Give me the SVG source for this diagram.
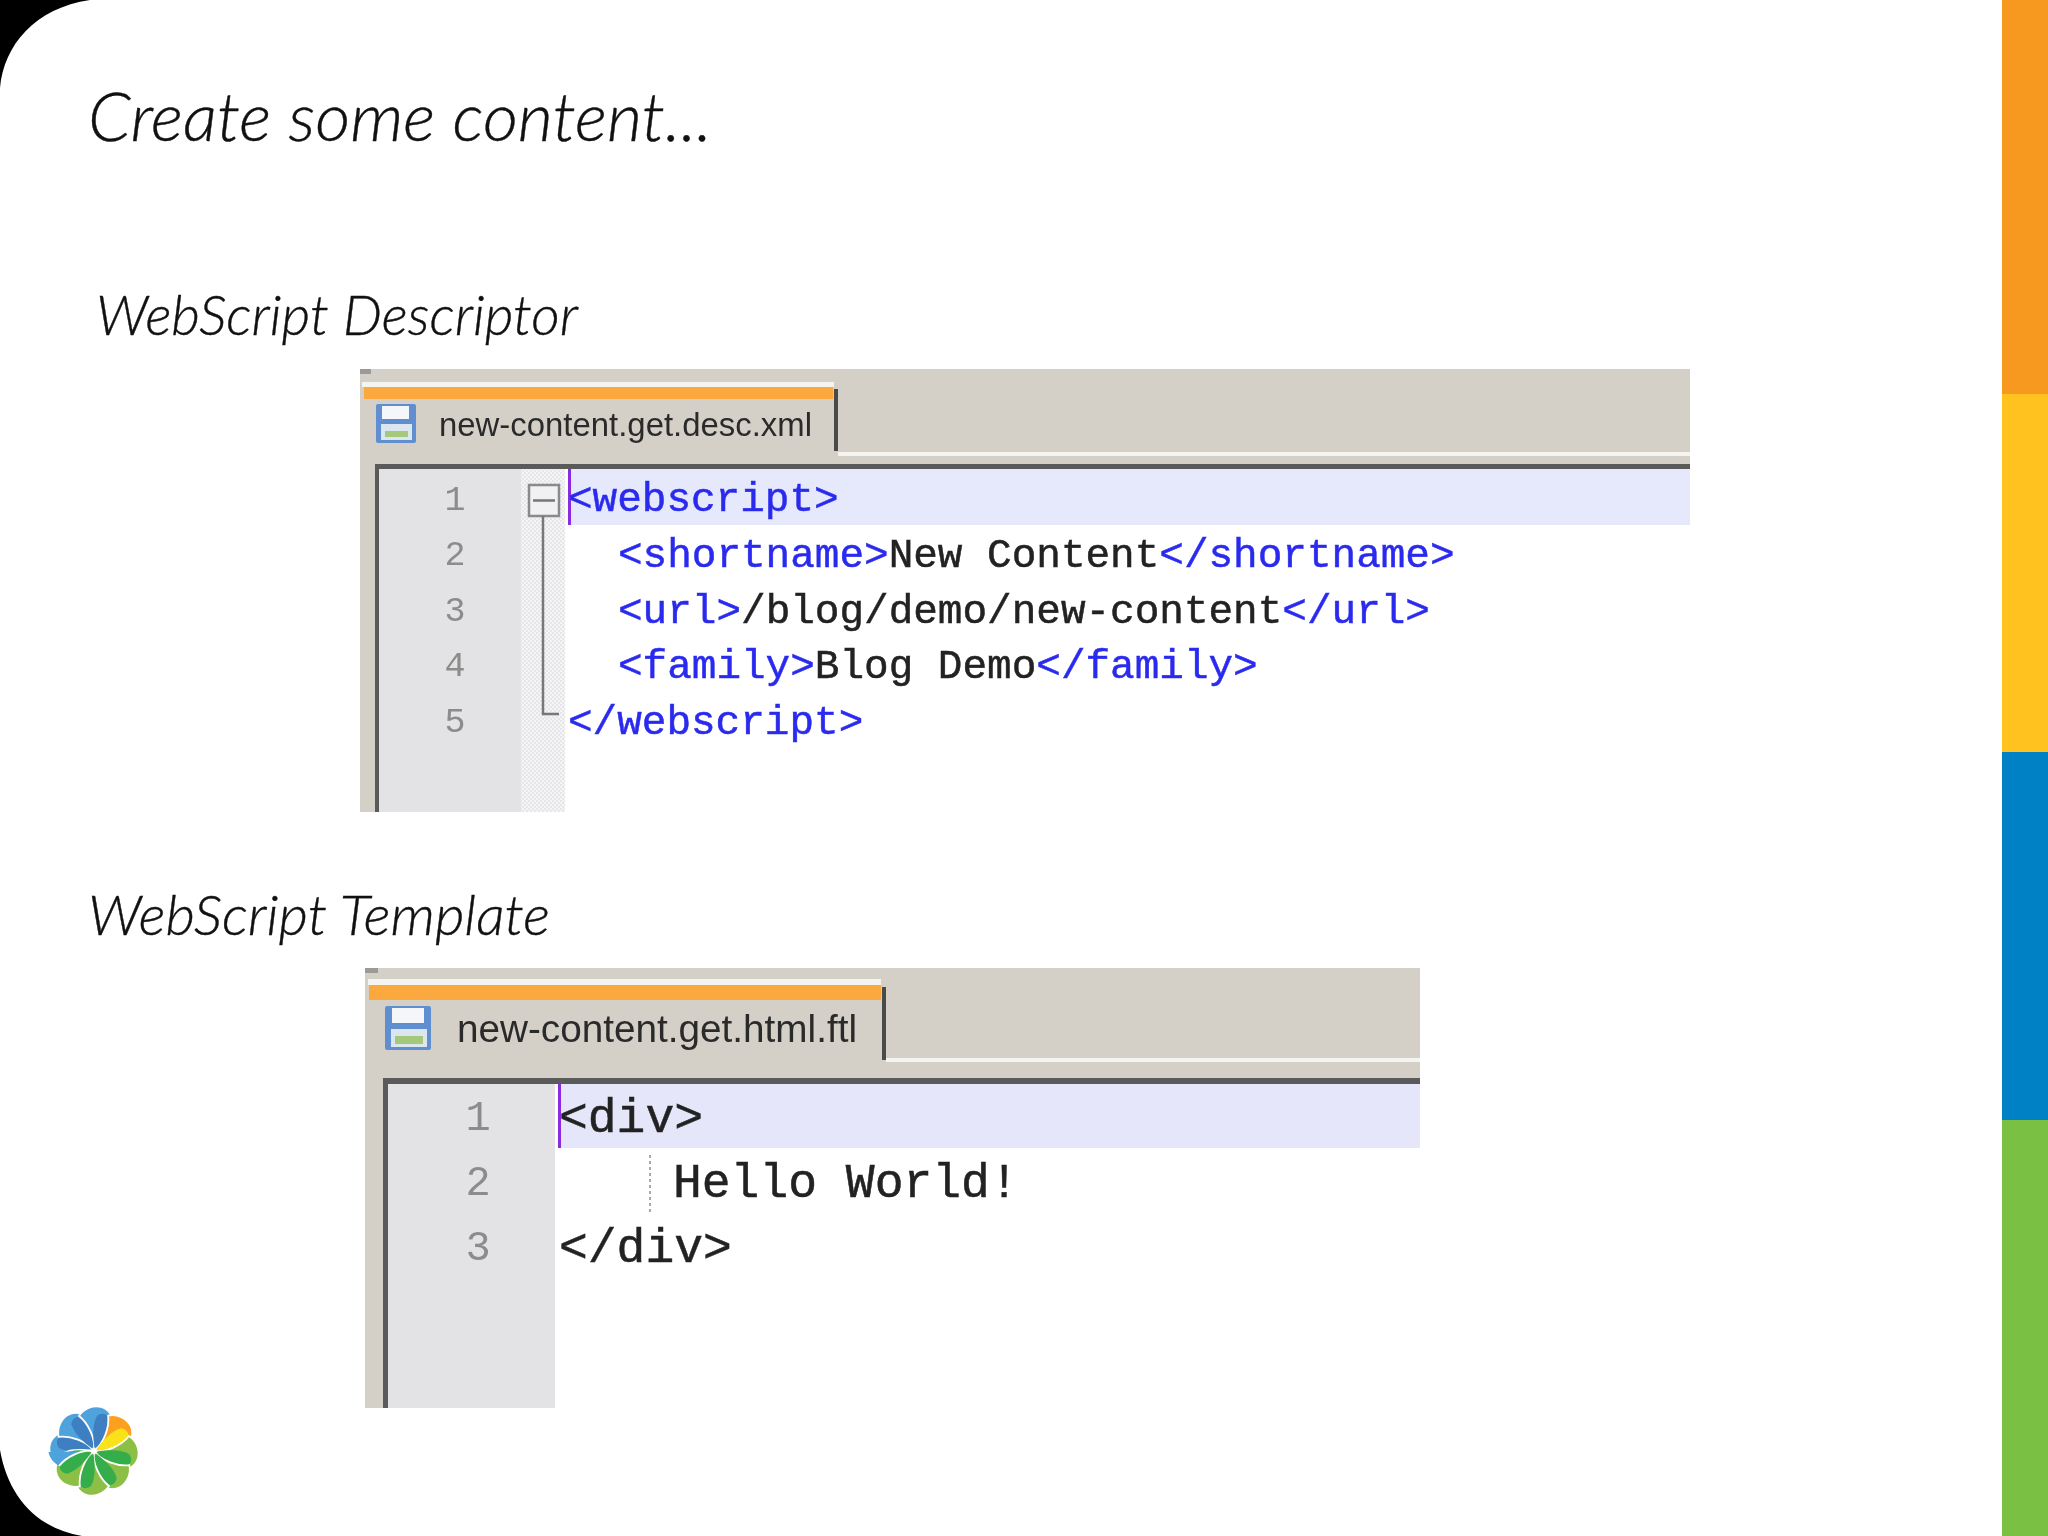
<svg xmlns="http://www.w3.org/2000/svg" xmlns:xlink="http://www.w3.org/1999/xlink" width="2048" height="1536" viewBox="0 0 2048 1536">
<style>
.title{font-family:"Lato","Liberation Sans",sans-serif;font-style:italic;font-weight:300;fill:#111;stroke:#111;stroke-width:.4}
.code1{font-family:"Liberation Mono",monospace;font-size:41px;fill:#222;stroke:#222;stroke-width:.5}
.code2{font-family:"Liberation Mono",monospace;font-size:48px;fill:#222;stroke:#222;stroke-width:.5}
.tag{fill:#2B2BEE;stroke:#2B2BEE}
.num1{font-family:"Liberation Mono",monospace;font-size:35px;fill:#8c8c8c;text-anchor:middle}
.num2{font-family:"Liberation Mono",monospace;font-size:42px;fill:#8c8c8c;text-anchor:middle}
.tab{font-family:"Liberation Sans",sans-serif;fill:#2b2b2b}
.chrome{fill:#D4D0C8}.orange{fill:#FBA93F}.hl{fill:#F4F4F0}.frame{fill:#5a5a5a}.gutter{fill:#E3E2E4}.line{fill:#E6E8FC}.caret{fill:#8A2BE2}
.soft{filter:url(#soft)}
</style>
<defs>
<filter id="soft" x="-2%" y="-10%" width="104%" height="120%"><feGaussianBlur stdDeviation="0.6"/></filter>
<pattern id="dither" width="4" height="4" patternUnits="userSpaceOnUse"><rect width="4" height="4" fill="#F5F4F6"/><rect width="2" height="2" fill="#E6E5E8"/><rect x="2" y="2" width="2" height="2" fill="#E6E5E8"/></pattern>
<path id="petal" d="M0,0C2,-12 -6,-28 -15,-35C-10,-43 0,-46 7,-44C15,-42 21,-33 20,-23C18,-14 8,-6 0,0Z" stroke="#fff" stroke-width="1.800"/>
<path id="lens" d="M.5,-3C-1,-14 -2,-26 3,-35C9,-40 17,-36 19,-25C18,-14 8,-6 .5,-3Z"/>
</defs>
<rect width="2048" height="1536" fill="#fff"/>
<g id="page-corners">
<path d="M0,0H90C35,8 4,45 0,88Z" fill="#000"/>
<path d="M0,1450C8,1495 35,1528 82,1536H0Z" fill="#000"/>
</g>
<g id="side-bar">
<rect x="2002" y="0" width="46" height="394" fill="#F7981F"/>
<rect x="2002" y="394" width="46" height="358" fill="#FFC21E"/>
<rect x="2002" y="752" width="46" height="368" fill="#0081C6"/>
<rect x="2002" y="1120" width="46" height="416" fill="#7AC143"/>
</g>
<g id="titles">
<text class="title" x="88" y="141" font-size="68" textLength="624" lengthAdjust="spacingAndGlyphs">Create some content...</text>
<text class="title" x="96" y="335" font-size="56" textLength="482" lengthAdjust="spacingAndGlyphs">WebScript Descriptor</text>
<text class="title" x="88" y="935" font-size="56" textLength="462" lengthAdjust="spacingAndGlyphs">WebScript Template</text>
</g>
<g id="editor-descriptor">
<rect class="chrome" x="360" y="369" width="1330" height="443"/>
<rect x="360" y="369" width="11" height="5" fill="#9a9a96"/>
<rect class="hl" x="362" y="382" width="472" height="5"/>
<rect class="orange" x="364" y="387" width="469" height="12"/>
<rect x="834" y="389" width="4" height="62" fill="#4a4a4a"/>
<rect class="hl" x="838" y="452" width="852" height="4"/>
<rect x="377" y="464" width="1313" height="348" fill="#fff"/>
<rect class="frame" x="377" y="464" width="1313" height="5"/>
<rect class="frame" x="375" y="464" width="4" height="348"/>
<rect class="gutter" x="379" y="469" width="142" height="343"/>
<rect x="521" y="469" width="44" height="343" fill="url(#dither)"/>
<rect class="line" x="569" y="469" width="1121" height="56"/>
<rect class="caret" x="568" y="469" width="3" height="56"/>
<rect x="529" y="485" width="30" height="31" fill="#F1F0F2" stroke="#8a8a8a" stroke-width="2.500"/>
<path d="M533,500.500H555M543,516V714H559" fill="none" stroke="#777" stroke-width="2.500"/>
<g class="soft">
<rect x="376" y="404" width="40" height="39" rx="2" fill="#5E8FD0"/>
<rect x="382" y="406" width="27" height="13" fill="#F4F6FA"/>
<rect x="381" y="424" width="31" height="16" fill="#DCE6EE"/>
<rect x="385" y="431" width="23" height="6" fill="#A6C87A"/>
<text class="tab" x="439" y="436" font-size="33" textLength="373" lengthAdjust="spacingAndGlyphs">new-content.get.desc.xml</text>
<text class="num1" x="455" y="510">1</text>
<text class="num1" x="455" y="565">2</text>
<text class="num1" x="455" y="621">3</text>
<text class="num1" x="455" y="676">4</text>
<text class="num1" x="455" y="732">5</text>
<text class="code1 tag" x="568" y="511">&lt;webscript&gt;</text>
<text class="code1" x="618" y="567"><tspan class="tag">&lt;shortname&gt;</tspan>New Content<tspan class="tag">&lt;/shortname&gt;</tspan></text>
<text class="code1" x="618" y="623"><tspan class="tag">&lt;url&gt;</tspan>/blog/demo/new-content<tspan class="tag">&lt;/url&gt;</tspan></text>
<text class="code1" x="618" y="678"><tspan class="tag">&lt;family&gt;</tspan>Blog Demo<tspan class="tag">&lt;/family&gt;</tspan></text>
<text class="code1 tag" x="568" y="734">&lt;/webscript&gt;</text>
</g>
</g>
<g id="editor-template">
<rect class="chrome" x="365" y="968" width="1055" height="440"/>
<rect x="365" y="968" width="13" height="5" fill="#9a9a96"/>
<rect class="hl" x="368" y="979" width="513" height="6"/>
<rect class="orange" x="369" y="985" width="512" height="15"/>
<rect x="882" y="987" width="4" height="73" fill="#4a4a4a"/>
<rect class="hl" x="886" y="1058" width="534" height="4"/>
<rect x="384" y="1078" width="1036" height="330" fill="#fff"/>
<rect class="frame" x="384" y="1078" width="1036" height="6"/>
<rect class="frame" x="383" y="1078" width="5" height="330"/>
<rect class="gutter" x="388" y="1084" width="167" height="324"/>
<rect x="559" y="1084" width="861" height="64" fill="#E6E6FA"/>
<rect class="caret" x="558" y="1084" width="3" height="64"/>
<path d="M650,1155V1215" fill="none" stroke="#aaa" stroke-width="2" stroke-dasharray="3 3"/>
<g class="soft">
<rect x="385" y="1006" width="46" height="44" rx="2" fill="#5E8FD0"/>
<rect x="392" y="1008" width="32" height="15" fill="#F4F6FA"/>
<rect x="391" y="1029" width="36" height="18" fill="#DCE6EE"/>
<rect x="395" y="1036" width="28" height="8" fill="#A6C87A"/>
<text class="tab" x="457" y="1042" font-size="38" textLength="400" lengthAdjust="spacingAndGlyphs">new-content.get.html.ftl</text>
<text class="num2" x="478" y="1130">1</text>
<text class="num2" x="478" y="1195">2</text>
<text class="num2" x="478" y="1260">3</text>
<text class="code2" x="559" y="1132">&lt;div&gt;</text>
<text class="code2" x="673" y="1197">Hello World!</text>
<text class="code2" x="559" y="1262">&lt;/div&gt;</text>
</g>
</g>
<g id="logo" transform="translate(94,1451)">
<g fill="#4FA3DC" transform="rotate(270)"><use xlink:href="#petal"/><use xlink:href="#lens" fill="#3E7FC1"/></g>
<g fill="#4FA3DC" transform="rotate(315)"><use xlink:href="#petal"/><use xlink:href="#lens" fill="#3E7FC1"/></g>
<g fill="#4FA3DC"><use xlink:href="#petal"/><use xlink:href="#lens" fill="#3E7FC1"/></g>
<g fill="#FBA11F" transform="rotate(45)"><use xlink:href="#petal"/><use xlink:href="#lens" fill="#F9E21A"/></g>
<g fill="#8CBF45" transform="rotate(90)"><use xlink:href="#petal"/><use xlink:href="#lens" fill="#35AD4A"/></g>
<g fill="#8CBF45" transform="rotate(135)"><use xlink:href="#petal"/><use xlink:href="#lens" fill="#35AD4A"/></g>
<g fill="#8CBF45" transform="rotate(180)"><use xlink:href="#petal"/><use xlink:href="#lens" fill="#35AD4A"/></g>
<g fill="#8CBF45" transform="rotate(225)"><use xlink:href="#petal"/><use xlink:href="#lens" fill="#35AD4A"/></g>
<g transform="rotate(270)"><path d="M0,0C2,-12 -6,-28 -15,-35C-10,-43 -4,-45 -1,-45.500Z" fill="#4FA3DC"/><path d="M0,0C2,-12 -6,-28 -15,-35" fill="none" stroke="#fff" stroke-width="1.800"/></g>
</g>
</svg>
